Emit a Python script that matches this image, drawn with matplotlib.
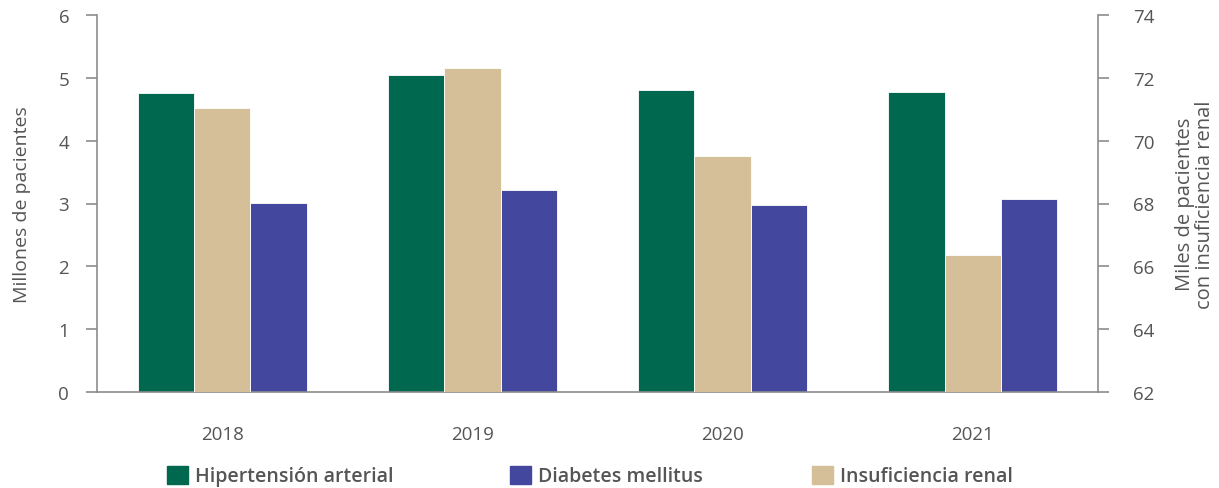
import numpy as np
import matplotlib.pyplot as plt
from matplotlib.patches import Patch

years = ['2018', '2019', '2020', '2021']
hipertension = [4.76, 5.05, 4.80, 4.77]   # millones
diabetes = [3.01, 3.21, 2.98, 3.07]       # millones
insuficiencia = [71.05, 72.3, 69.5, 66.35]  # miles

GREEN = '#00684F'
BLUE = '#43479D'
TAN = '#D4BF98'
GRAY = '#8C8C8C'
TXT = '#555555'

plt.rcParams['font.family'] = ['Open Sans', 'DejaVu Sans']

fig = plt.figure(figsize=(12.19, 4.89), dpi=100)
ax = fig.add_axes([97 / 1219, 1 - 393 / 489, 1001 / 1219, 377 / 489])
ax2 = ax.twinx()

x = np.arange(len(years))
w = 0.225
ax.bar(x - w, hipertension, w, color=GREEN, edgecolor='white', linewidth=0.6, zorder=2)
ax.bar(x + w, diabetes, w, color=BLUE, edgecolor='white', linewidth=0.6, zorder=2)
ax2.bar(x, insuficiencia, w, color=TAN, edgecolor='white', linewidth=0.6, zorder=2)

ax.set_xlim(-0.5, 3.5)
ax.set_ylim(0, 6)
ax2.set_ylim(62, 74)
ax.set_yticks(range(0, 7))
ax2.set_yticks(range(62, 75, 2))
ax.set_xticks(x)
ax.set_xticklabels(years)

for a in (ax, ax2):
    a.spines['top'].set_visible(False)
    for s in ('left', 'right', 'bottom'):
        a.spines[s].set_color(GRAY)
        a.spines[s].set_linewidth(1.2)
ax.spines['right'].set_visible(False)
ax2.spines['left'].set_visible(False)
ax2.spines['bottom'].set_visible(False)

ax.tick_params(axis='y', length=8, width=1.2, color=GRAY, labelcolor=TXT, labelsize=13.5, pad=12)
ax2.tick_params(axis='y', length=8, width=1.2, color=GRAY, labelcolor=TXT, labelsize=13.5, pad=17)
ax.tick_params(axis='x', length=0, labelcolor=TXT, labelsize=13.5, pad=24)

ax.set_ylabel('Millones de pacientes', color=TXT, fontsize=14)
ax2.set_ylabel('Miles de pacientes\ncon insuficiencia renal', color=TXT, fontsize=14.5,
               rotation=90, linespacing=1.0, va='center', ha='center')
ax2.yaxis.set_label_coords(1.097, 0.5)
ax.yaxis.set_label_coords(-0.066, 0.5)

labels = ['Hipertensión arterial', 'Diabetes mellitus', 'Insuficiencia renal']
colors = [GREEN, BLUE, TAN]
legend_x = [167, 510, 812]
for lab, col, lx in zip(labels, colors, legend_x):
    fig.legend([Patch(color=col)], [lab], loc='center left',
               bbox_to_anchor=(lx / 1219, 1 - 477 / 489), frameon=False,
               borderpad=0, borderaxespad=0, handlelength=1.1, handleheight=1.1,
               handletextpad=0.35, prop={'size': 14, 'weight': 'semibold'}, labelcolor=TXT)

fig.savefig('out.png', dpi=100)
